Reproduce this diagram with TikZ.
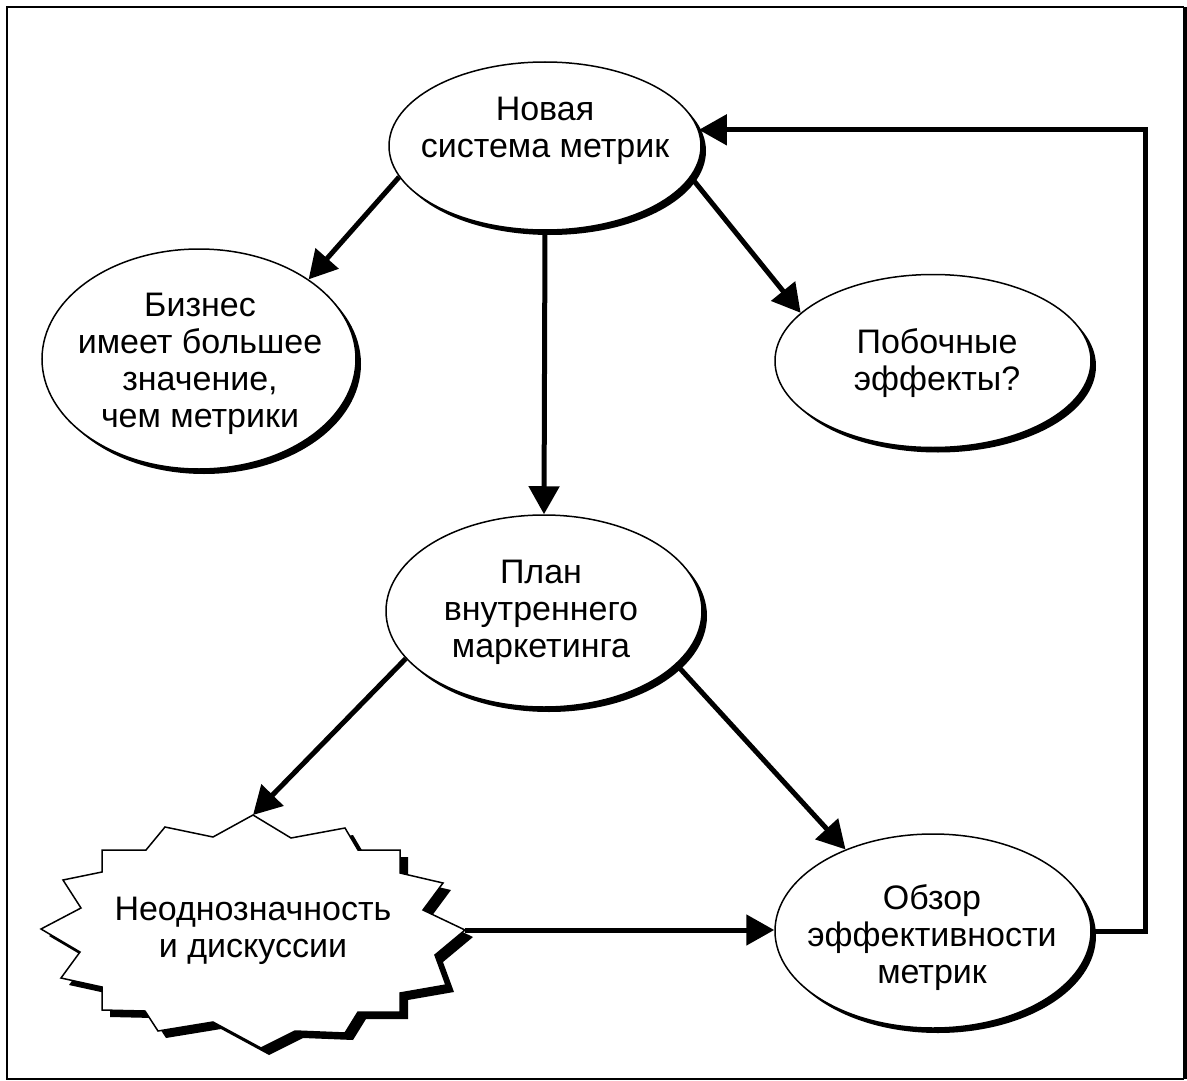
\documentclass[tikz,border=0pt]{standalone}
\usepackage{fontspec}
\setmainfont{Liberation Sans}
\usetikzlibrary{arrows.meta,shapes.geometric,shadows}

\begin{document}
\begin{tikzpicture}[x=1pt,y=-1pt,
  bubble/.style={ellipse, draw=black, line width=1.5pt, fill=white, inner sep=0pt,
    drop shadow={shadow xshift=5pt, shadow yshift=-5pt, fill=black, opacity=1}},
  txt/.style={align=center, font=\fontsize{34}{37}\selectfont, inner sep=0pt},
  arr/.style={line width=5pt, -{Triangle[length=28pt,width=30pt]}},
  burst/.style={draw=black, line width=1.5pt, fill=white, line join=miter,
    drop shadow={shadow xshift=8pt, shadow yshift=-7pt, fill=black, opacity=1}}]

\useasboundingbox (0,0) rectangle (1187,1081);

% outer frame
\draw[gray!35, line width=1pt] (7,1079) -- (1184,1079);
\draw[line width=2pt] (1184,1079) -- (7,1079) -- (7,7) -- (1184,7);
\draw[line width=4pt] (1185,7) -- (1185,1079);

% ellipses
\node[bubble, minimum width=312pt, minimum height=168pt] (n1) at (545,146) {};
\node[bubble, minimum width=314pt, minimum height=220pt] (n2) at (199,359) {};
\node[bubble, minimum width=316pt, minimum height=173pt] (n3) at (933,361) {};
\node[bubble, minimum width=316pt, minimum height=192pt] (n4) at (544,611) {};
\node[bubble, minimum width=316pt, minimum height=194pt] (n5) at (933,931) {};

% starburst
\begin{scope}[shift={(253,930)}]
  \path[burst] (0,-115) -- (38,-92) -- (92,-102) -- (105,-80) -- (147,-80)
    -- (147,-57) -- (190,-47) -- (170,-20) -- (212,0) -- (182,25) -- (193,55)
    -- (147,63) -- (147,82) -- (105,82) -- (92,103) -- (42,101) -- (8,118)
    -- (-40,92) -- (-95,101) -- (-108,81) -- (-151,80) -- (-151,57)
    -- (-192,48) -- (-173,22) -- (-212,-1) -- (-172,-22) -- (-190,-50)
    -- (-151,-58) -- (-151,-80) -- (-107,-80) -- (-88,-103) -- (-40,-93) -- cycle;
  \coordinate (star) at (0,0);
  \coordinate (star-top) at (0,-115);
  \coordinate (star-east) at (212,0);
\end{scope}

% texts
\node[txt] (t1) at (545,131) {Новая\\система метрик};
\node[txt] (t2) at (200,364) {Бизнес\\имеет большее\\значение,\\чем метрики};
\node[txt] (t3) at (937,363) {Побочные\\эффекты?};
\node[txt] (t4) at (541,612) {План\\внутреннего\\маркетинга};
\node[txt] (t5) at (932,938) {Обзор\\эффективности\\метрик};
\node[txt] (t6) at (253,931) {Неоднозначность\\и дискуссии};

% connectors
\coordinate (ret) at (1145,931);
\draw[arr] (n1.192.7) -- (n2.36.5);
\draw[arr] (n1.348.5) -- (n3.160.7);
\draw[arr] (n1.south) -- (n4.north);
\draw[arr] (n4.199.4) -- (star-top);
\draw[arr] (n4.338) -- (n5.137.4);
\draw[arr] (star-east) -- (star-east -| n5.west);
\draw[arr] (n5.east) -- (ret) |- (n1.6);

\end{tikzpicture}
\end{document}
